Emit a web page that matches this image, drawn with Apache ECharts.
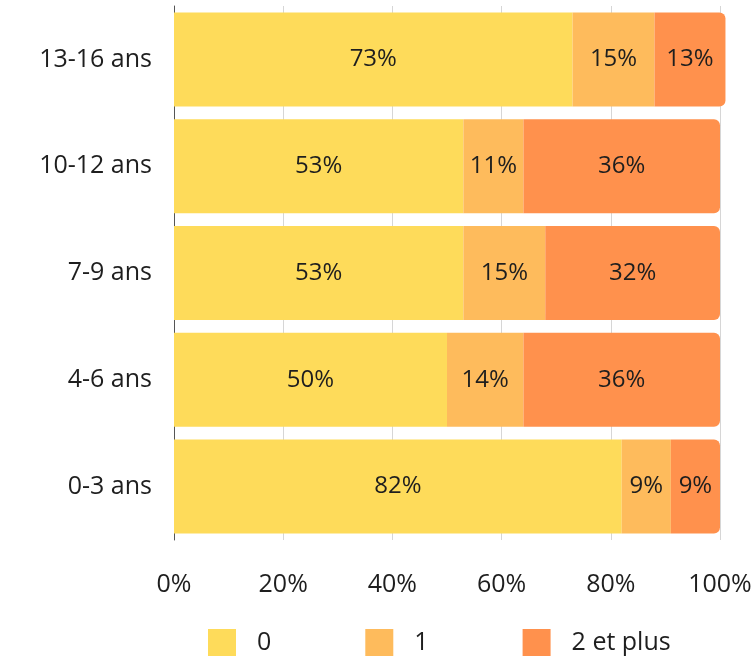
<!DOCTYPE html>
<html>
  <head>
    <meta charset="utf-8">
    <title>enfants</title>
    <script src="https://cdn.jsdelivr.net/npm/echarts@6/dist/echarts.min.js"></script>
  </head>
  <body style="margin:0">
    <div id="main" style="width: 752px; height: 662px"></div>
    <script>
      var categories = ["0-3 ans", "4-6 ans", "7-9 ans", "10-12 ans", "13-16 ans"];
      var seriesNames = ["0", "1", "2 et plus"];
      var val0 = [82, 50, 53, 53, 73];
      var val1 = [9, 14, 15, 11, 15];
      var val2 = [9, 36, 32, 36, 13];
      var colors = ["#FEDB5A", "#FEBB5C", "#FF914D"];
      var font = "Open Sans";

      var myChart = echarts.init(document.getElementById("main"));
      var values = [val0, val1, val2];
      var series = [];
      for (var i = 0; i < seriesNames.length; i++) {
        series.push({
          name: seriesNames[i],
          type: "bar",
          stack: "total",
          clip: false,
          barCategoryGap: "12%",
          data: values[i],
          itemStyle: {
            color: colors[i],
            borderRadius: i == 2 ? [0, 6, 6, 0] : 0
          },
          label: {
            show: true,
            position: "inside",
            formatter: "{c}%",
            color: "#1e1e1e",
            fontSize: 24,
            fontFamily: font
          }
        });
      }
      var txt = { fontSize: 25, color: "#1e1e1e", fontFamily: font };
      var option = {
        animation: false,
        grid: { left: 174, right: 32, top: 6, bottom: 122, outerBoundsMode: "none", containLabel: false },
        legend: {
          bottom: 1,
          left: 203,
          itemWidth: 28,
          itemHeight: 27,
          itemGap: 94,
          icon: "rect",
          textStyle: Object.assign({ padding: [10, 0, 0, 16] }, txt),
          data: seriesNames
        },
        xAxis: {
          type: "value",
          min: 0,
          max: 100,
          interval: 20,
          axisLabel: Object.assign({ formatter: "{value}%", margin: 32 }, txt),
          splitLine: { lineStyle: { color: "#d6d6d6" } }
        },
        yAxis: {
          type: "category",
          data: categories,
          axisTick: { show: false },
          axisLine: { lineStyle: { color: "#555" } },
          axisLabel: Object.assign({ margin: 22 }, txt)
        },
        series: series
      };
      myChart.setOption(option);
    </script>
  </body>
</html>
